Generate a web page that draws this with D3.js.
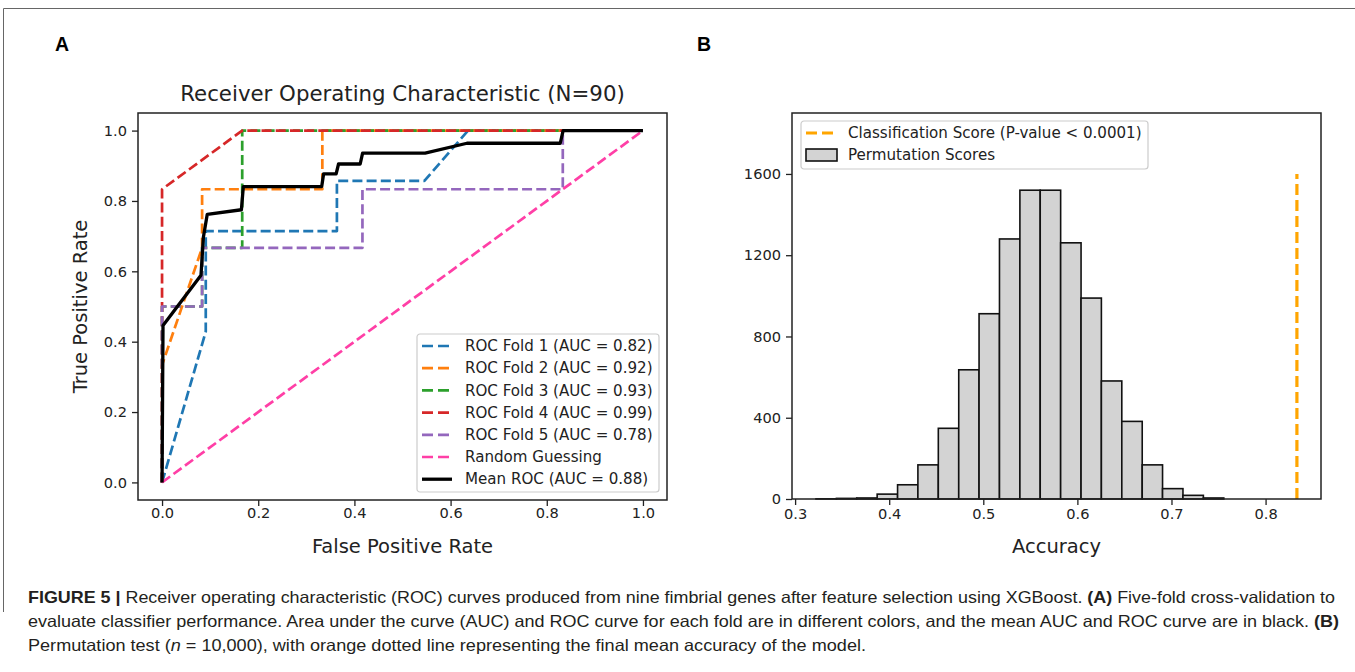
<!DOCTYPE html>
<html>
<head>
<meta charset="utf-8">
<script src="https://cdn.jsdelivr.net/npm/d3@7"></script>
<style>
  body { margin: 0; background: #fff; }
  svg { display: block; }
</style>
</head>
<body>
<svg id="fig" width="1355" height="672"></svg>
<script>
/*--- datos panel A: curvas ROC ---*/
let foldLabels = ["ROC Fold 1 (AUC = 0.82)", "ROC Fold 2 (AUC = 0.92)", "ROC Fold 3 (AUC = 0.93)",
                  "ROC Fold 4 (AUC = 0.99)", "ROC Fold 5 (AUC = 0.78)"]
let fold1Fpr = [0, 0.0909, 0.0909, 0.3636, 0.3636, 0.5455, 0.6364, 1]
let fold1Tpr = [0, 0.4286, 0.7143, 0.7143, 0.8571, 0.8571, 1, 1]
let fold2Fpr = [0, 0, 0.0833, 0.0833, 0.3333, 0.3333, 1]
let fold2Tpr = [0, 0.3333, 0.6667, 0.8333, 0.8333, 1, 1]
let fold3Fpr = [0, 0, 0.0833, 0.0833, 0.1667, 0.1667, 1]
let fold3Tpr = [0, 0.5, 0.5, 0.6667, 0.6667, 1, 1]
let fold4Fpr = [0, 0, 0.1667, 1]
let fold4Tpr = [0, 0.8333, 1, 1]
let fold5Fpr = [0, 0, 0.0833, 0.0833, 0.4167, 0.4167, 0.8333, 0.8333, 1]
let fold5Tpr = [0, 0.5, 0.5, 0.6667, 0.6667, 0.8333, 0.8333, 1, 1]
let randomFpr = [0, 1]
let randomTpr = [0, 1]
let meanFpr = [0, 0.002, 0.081, 0.086, 0.094, 0.165, 0.169, 0.332, 0.336, 0.362, 0.367, 0.412, 0.417, 0.547, 0.634, 0.828, 0.834, 1]
let meanTpr = [0, 0.446, 0.589, 0.697, 0.762, 0.775, 0.841, 0.841, 0.877, 0.877, 0.905, 0.905, 0.936, 0.936, 0.964, 0.964, 1, 1]
let rocTicks = [0, 0.2, 0.4, 0.6, 0.8, 1.0]

/*--- datos panel B: permutaciones ---*/
let binEdges = [0.3222, 0.3439, 0.3655, 0.3872, 0.4089, 0.4305, 0.4522, 0.4739, 0.4955, 0.5172, 0.5389,
                0.5605, 0.5822, 0.6039, 0.6255, 0.6472, 0.6689, 0.6905, 0.7122, 0.7339, 0.7556]
let binCounts = [1, 3, 5, 24, 70, 168, 348, 636, 912, 1280, 1520, 1520, 1261, 989, 581, 382, 168, 51, 18, 5]
let classScore = 0.8333
let classLineTop = 1600
let histXTicks = [0.3, 0.4, 0.5, 0.6, 0.7, 0.8]
let histYTicks = [0, 400, 800, 1200, 1600]

/*--- estilos ---*/
let foldColors = ["#1f77b4", "#ff7f0e", "#2ca02c", "#d62728", "#9467bd"]
let pink = "#ff3fa6"
let fuente = "'DejaVu Sans', sans-serif"
let dash = "10,4.2"
let tamTick = 14.6
let tamLey = 15.1
let tamEtiq = 19.5

let svg = d3.select("#fig")
svg.append("rect").attr("width", 1355).attr("height", 672).attr("fill", "#fff")

// marco exterior
svg.append("path")
    .attr("d", "M1356,8.5 H3.5 V612")
    .attr("fill", "none").attr("stroke", "#666").attr("stroke-width", 1)

// letras de panel
svg.append("text").attr("x", 55).attr("y", 51).text("A")
    .attr("font-family", "'Liberation Sans Narrow','Liberation Sans',Arial,sans-serif")
    .attr("font-weight", "bold").attr("font-size", 19.5)
svg.append("text").attr("x", 697).attr("y", 51).text("B")
    .attr("font-family", "'Liberation Sans Narrow','Liberation Sans',Arial,sans-serif")
    .attr("font-weight", "bold").attr("font-size", 19.5)

/*--- PANEL A ---*/
let A = { left: 138, right: 667, top: 113, bottom: 500 }
let xA = d3.scaleLinear().domain([-0.05, 1.05]).range([A.left, A.right])
let yA = d3.scaleLinear().domain([-0.05, 1.05]).range([A.bottom, A.top])
let gA = svg.append("g")

let linea = d3.line().x(d => xA(d[0])).y(d => yA(d[1]))
let zipea = (xs, ys) => xs.map((x, i) => [x, ys[i]])

let curvas = [
    [fold1Fpr, fold1Tpr], [fold2Fpr, fold2Tpr], [fold3Fpr, fold3Tpr],
    [fold4Fpr, fold4Tpr], [fold5Fpr, fold5Tpr]
]
curvas.forEach(function (c, i) {
    gA.append("path")
        .attr("d", linea(zipea(c[0], c[1])))
        .attr("fill", "none")
        .attr("stroke", foldColors[i])
        .attr("stroke-width", 2.7)
        .attr("stroke-dasharray", dash)
        .attr("stroke-linejoin", "round")
})
gA.append("path")
    .attr("d", linea(zipea(randomFpr, randomTpr)))
    .attr("fill", "none").attr("stroke", pink)
    .attr("stroke-width", 2.7).attr("stroke-dasharray", dash)
gA.append("path")
    .attr("d", linea(zipea(meanFpr, meanTpr)))
    .attr("fill", "none").attr("stroke", "#000")
    .attr("stroke-width", 3.3).attr("stroke-linejoin", "round")

// ejes
let ejeXA = gA.append("g").attr("transform", "translate(0," + A.bottom + ")")
    .call(d3.axisBottom(xA).tickValues(rocTicks).tickFormat(d3.format(".1f")).tickSize(6).tickPadding(2))
let ejeYA = gA.append("g").attr("transform", "translate(" + A.left + ",0)")
    .call(d3.axisLeft(yA).tickValues(rocTicks).tickFormat(d3.format(".1f")).tickSize(6).tickPadding(5))
;[ejeXA, ejeYA].forEach(function (e) {
    e.select(".domain").remove()
    e.selectAll("line").attr("stroke", "#222").attr("stroke-width", 1.3)
    e.selectAll("text").attr("font-family", fuente).attr("font-size", tamTick).attr("fill", "#222")
})
gA.append("rect")
    .attr("x", A.left).attr("y", A.top)
    .attr("width", A.right - A.left).attr("height", A.bottom - A.top)
    .attr("fill", "none").attr("stroke", "#222").attr("stroke-width", 1.5)

gA.append("text").attr("x", (A.left + A.right) / 2).attr("y", 101)
    .attr("text-anchor", "middle").attr("font-family", fuente).attr("font-size", 21.3)
    .attr("fill", "#222").text("Receiver Operating Characteristic (N=90)")
gA.append("text").attr("x", (A.left + A.right) / 2).attr("y", 553)
    .attr("text-anchor", "middle").attr("font-family", fuente).attr("font-size", tamEtiq)
    .attr("fill", "#222").text("False Positive Rate")
gA.append("text")
    .attr("transform", "translate(87," + ((A.top + A.bottom) / 2) + ") rotate(-90)")
    .attr("text-anchor", "middle").attr("font-family", fuente).attr("font-size", tamEtiq)
    .attr("fill", "#222").text("True Positive Rate")

// leyenda A
let leyA = gA.append("g").attr("transform", "translate(417,334)")
leyA.append("rect").attr("width", 242).attr("height", 158).attr("rx", 3)
    .attr("fill", "#fff").attr("fill-opacity", 0.8).attr("stroke", "#ccc").attr("stroke-width", 1.2)
let itemsA = foldLabels.map((t, i) => ({ t: t, c: foldColors[i], dash: true }))
itemsA.push({ t: "Random Guessing", c: pink, dash: true })
itemsA.push({ t: "Mean ROC (AUC = 0.88)", c: "#000", dash: false })
itemsA.forEach(function (it, i) {
    let yy = 12 + i * 22.2
    leyA.append("line").attr("x1", 5).attr("x2", 35).attr("y1", yy).attr("y2", yy)
        .attr("stroke", it.c).attr("stroke-width", it.dash ? 2.7 : 3.3)
        .attr("stroke-dasharray", it.dash ? "11,5" : null)
    leyA.append("text").attr("x", 48).attr("y", yy).attr("dy", "0.35em")
        .attr("font-family", fuente).attr("font-size", tamLey).attr("fill", "#222").text(it.t)
})

/*--- PANEL B ---*/
let B = { left: 792, right: 1321, top: 113, bottom: 499 }
let xB = d3.scaleLinear().domain([0.2967, 0.8589]).range([B.left, B.right])
let yB = d3.scaleLinear().domain([0, 1900]).range([B.bottom, B.top])
let gB = svg.append("g")

let barras = binCounts.map((c, i) => ({ x0: binEdges[i], x1: binEdges[i + 1], n: c }))
gB.selectAll("rect.bar").data(barras).enter().append("rect")
    .attr("class", "bar")
    .attr("x", d => xB(d.x0)).attr("width", d => xB(d.x1) - xB(d.x0))
    .attr("y", d => yB(d.n)).attr("height", d => yB(0) - yB(d.n))
    .attr("fill", "#d3d3d3").attr("stroke", "#111").attr("stroke-width", 1.6)

gB.append("line")
    .attr("x1", xB(classScore)).attr("x2", xB(classScore))
    .attr("y1", yB(0)).attr("y2", yB(classLineTop))
    .attr("stroke", "#ffa500").attr("stroke-width", 3.2).attr("stroke-dasharray", "11,5")

let ejeXB = gB.append("g").attr("transform", "translate(0," + B.bottom + ")")
    .call(d3.axisBottom(xB).tickValues(histXTicks).tickFormat(d3.format(".1f")).tickSize(6).tickPadding(4))
let ejeYB = gB.append("g").attr("transform", "translate(" + B.left + ",0)")
    .call(d3.axisLeft(yB).tickValues(histYTicks).tickFormat(d3.format("d")).tickSize(6).tickPadding(5))
;[ejeXB, ejeYB].forEach(function (e) {
    e.select(".domain").remove()
    e.selectAll("line").attr("stroke", "#222").attr("stroke-width", 1.3)
    e.selectAll("text").attr("font-family", fuente).attr("font-size", tamTick).attr("fill", "#222")
})
gB.append("rect")
    .attr("x", B.left).attr("y", B.top)
    .attr("width", B.right - B.left).attr("height", B.bottom - B.top)
    .attr("fill", "none").attr("stroke", "#222").attr("stroke-width", 1.5)

gB.append("text").attr("x", (B.left + B.right) / 2).attr("y", 553)
    .attr("text-anchor", "middle").attr("font-family", fuente).attr("font-size", tamEtiq)
    .attr("fill", "#222").text("Accuracy")

// leyenda B
let leyB = gB.append("g").attr("transform", "translate(801,121)")
leyB.append("rect").attr("width", 347).attr("height", 48).attr("rx", 3)
    .attr("fill", "#fff").attr("fill-opacity", 0.8).attr("stroke", "#ccc").attr("stroke-width", 1.2)
leyB.append("line").attr("x1", 5).attr("x2", 36).attr("y1", 12).attr("y2", 12)
    .attr("stroke", "#ffa500").attr("stroke-width", 3.2).attr("stroke-dasharray", "11,5")
leyB.append("rect").attr("x", 5).attr("y", 28).attr("width", 31).attr("height", 12)
    .attr("fill", "#d3d3d3").attr("stroke", "#111").attr("stroke-width", 1.6)
leyB.append("text").attr("x", 47).attr("y", 12).attr("dy", "0.35em")
    .attr("font-family", fuente).attr("font-size", tamLey).attr("fill", "#222")
    .text("Classification Score (P-value < 0.0001)")
leyB.append("text").attr("x", 47).attr("y", 34).attr("dy", "0.35em")
    .attr("font-family", fuente).attr("font-size", tamLey).attr("fill", "#222")
    .text("Permutation Scores")

/*--- pie de figura ---*/
let pie = svg.append("g")
    .attr("font-family", "'Liberation Sans Narrow','Liberation Sans',Arial,sans-serif")
    .attr("font-size", 16.5).attr("fill", "#231f20")

let l1 = pie.append("text").attr("x", 28).attr("y", 603)
    .attr("textLength", 1307).attr("lengthAdjust", "spacingAndGlyphs")
l1.append("tspan").attr("font-weight", "bold").text("FIGURE 5 | ")
l1.append("tspan").text("Receiver operating characteristic (ROC) curves produced from nine fimbrial genes after feature selection using XGBoost. ")
l1.append("tspan").attr("font-weight", "bold").text("(A)")
l1.append("tspan").text(" Five-fold cross-validation to")

let l2 = pie.append("text").attr("x", 28).attr("y", 627)
    .attr("textLength", 1311).attr("lengthAdjust", "spacingAndGlyphs")
l2.append("tspan").text("evaluate classifier performance. Area under the curve (AUC) and ROC curve for each fold are in different colors, and the mean AUC and ROC curve are in black. ")
l2.append("tspan").attr("font-weight", "bold").text("(B)")

let l3 = pie.append("text").attr("x", 28).attr("y", 651)
    .attr("textLength", 838).attr("lengthAdjust", "spacingAndGlyphs")
l3.append("tspan").text("Permutation test (")
l3.append("tspan").attr("font-style", "italic").text("n")
l3.append("tspan").text(" = 10,000), with orange dotted line representing the final mean accuracy of the model.")
</script>
</body>
</html>
